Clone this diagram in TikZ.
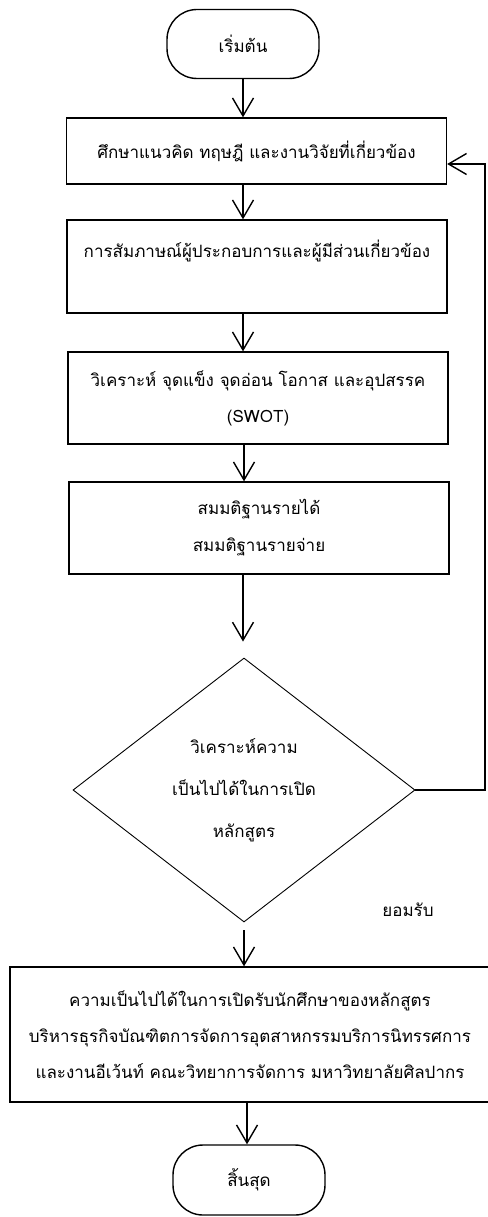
\documentclass[tikz,border=0pt]{standalone}
\usepackage{fontspec}
\newfontfamily\thaifont[Script=Thai]{Loma}
\usetikzlibrary{shapes.geometric,arrows.meta}
\tikzset{
	pfeil/.style={-{Straight Barb[length=18pt,width=21pt,line width=1.4pt]},line width=1.4pt},
	kasten/.style={draw,line width=1.3pt,minimum width=380pt,inner sep=0pt,align=center,font=\thaifont\fontsize{17}{36}\selectfont},
	ende/.style={draw,line width=1.4pt,rounded corners=30pt,minimum width=152pt,minimum height=69pt,font=\thaifont\fontsize{17}{36}\selectfont},
	raute/.style={draw,diamond,line width=0.9pt,inner sep=0pt,minimum width=342pt,minimum height=264pt,align=center,font=\thaifont\fontsize{17}{42}\selectfont}
}
\begin{document}
\begin{tikzpicture}[x=1pt,y=-1pt]
	\useasboundingbox (0,0) rectangle (487,1217);
	% Knoten
	\node[ende] (start) at (243,44) {เริ่มต้น};
	\node[kasten,minimum height=66pt] (k1) at (256.5,151) {ศึกษาแนวคิด ทฤษฎี และงานวิจัยที่เกี่ยวข้อง};
	\node[kasten,minimum height=93pt] (k2) at (257,266.5) {การสัมภาษณ์ผู้ประกอบการและผู้มีส่วนเกี่ยวข้อง\\ \mbox{}};
	\node[kasten,minimum height=92pt] (k3) at (258,398) {วิเคราะห์ จุดแข็ง จุดอ่อน โอกาส และอุปสรรค\\(SWOT)};
	\node[kasten,minimum height=92pt,font=\thaifont\fontsize{17}{37}\selectfont] (k4) at (259,528) {สมมติฐานรายได้\\สมมติฐานรายจ่าย};
	\node[raute] (entscheid) at (244,790) {วิเคราะห์ความ\\เป็นไปได้ในการเปิด\\หลักสูตร};
	\node[font=\thaifont\fontsize{17}{36}\selectfont] (ja) at (408,910) {ยอมรับ};
	\node[kasten,minimum width=480pt,minimum height=135pt] (k5) at (250,1034.5) {ความเป็นไปได้ในการเปิดรับนักศึกษาของหลักสูตร\\บริหารธุรกิจบัณฑิตการจัดการอุตสาหกรรมบริการนิทรรศการ\\และงานอีเว้นท์ คณะวิทยาการจัดการ มหาวิทยาลัยศิลปากร};
	\node[ende,minimum height=70pt] (stop) at (249,1180) {สิ้นสุด};
	% Pfeile
	\draw[pfeil] (start.south) -- (start.south |- k1.north);
	\draw[pfeil] (k1.south -| start) -- (k2.north -| start);
	\draw[pfeil] ([xshift=-1pt]k2.south -| entscheid) -- ([xshift=-1pt]k3.north -| entscheid);
	\draw[pfeil] (k3.south -| entscheid) -- (k4.north -| entscheid);
	\draw[pfeil,shorten >=16pt] ([xshift=-1pt]k4.south -| entscheid) -- ([xshift=-1pt]entscheid.north);
	\draw[pfeil,shorten <=8pt] (entscheid.south) -- (k5.north -| entscheid.south);
	\draw[pfeil] ([xshift=-2pt]k5.south -| stop) -- ([xshift=-2pt]stop.north);
	% Rueckfuehrung
	\coordinate (rueck) at (485,164);
	\draw[pfeil] (entscheid.east) -| (rueck) -- (rueck -| k1.east);
\end{tikzpicture}
\end{document}
